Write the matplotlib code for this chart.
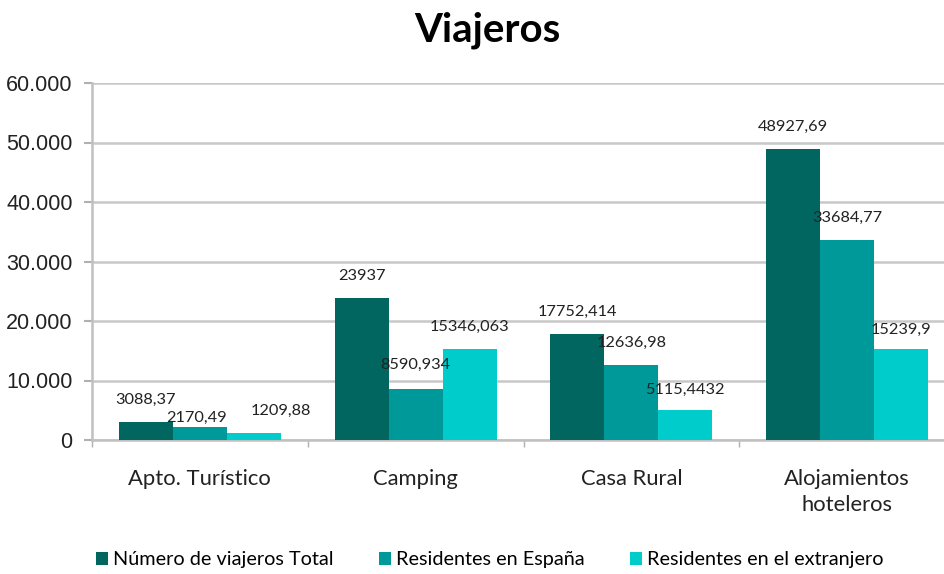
import numpy as np
import matplotlib.pyplot as plt

# datos del grafico
categorias = ["Apto. Turístico", "Camping", "Casa Rural", "Alojamientos\nhoteleros"]
series = ["Número de viajeros Total", "Residentes en España", "Residentes en el extranjero"]
total = [3088.37, 23937, 17752.414, 48927.69]
espana = [2170.49, 8590.934, 12636.98, 33684.77]
extranjero = [1209.88, 15346.063, 5115.4432, 15239.9]
etiquetas = [["3088,37", "23937", "17752,414", "48927,69"],
             ["2170,49", "8590,934", "12636,98", "33684,77"],
             ["1209,88", "15346,063", "5115,4432", "15239,9"]]
yticks = [0, 10000, 20000, 30000, 40000, 50000, 60000]
ytick_labels = ["0", "10.000", "20.000", "30.000", "40.000", "50.000", "60.000"]

colores = ["#00665f", "#009999", "#00cccc"]
# desplazamientos de las etiquetas (pixeles), como los deja Excel
offs = [[(0, 22), (0, 22), (0, 22), (0, 22)],
        [(-3, 9), (0, 24), (0, 22), (0, 22)],
        [(27, 22), (0, 22), (0, 20), (0, 19)]]

fig = plt.figure(figsize=(9.45, 5.74), dpi=100)
ax = fig.add_axes([92/945, (574-440)/574, (955-92)/945, (440-83)/574])

x = np.arange(len(categorias))
w = 0.25
valores = [total, espana, extranjero]
for i, vals in enumerate(valores):
    pos = x + (i - 1) * w
    ax.bar(pos, vals, width=w, color=colores[i], label=series[i], zorder=3)
    for j, v in enumerate(vals):
        ax.annotate(etiquetas[i][j], (pos[j], v), xytext=offs[i][j],
                    textcoords="offset pixels", ha="center", va="center",
                    fontsize=11.8, family="Lato", color="#222222", zorder=4)

ax.set_xlim(-0.5, 3.5)
ax.set_ylim(0, 60000)
ax.set_yticks(yticks)
ax.set_yticklabels(ytick_labels, family="Liberation Sans", fontsize=15.5, color="#222222")
ax.set_xticks(x)
ax.set_xticklabels(categorias, family="Lato", fontsize=15.8, color="#222222", linespacing=1.35)
ax.set_xticks(np.arange(len(categorias) + 1) - 0.5, minor=True)
ax.tick_params(axis="x", which="major", length=0, pad=21)
ax.tick_params(axis="x", which="minor", length=5, color="#b0b0b0", width=1)
ax.tick_params(axis="y", length=6, color="#b0b0b0", width=1.5, pad=8)

ax.grid(axis="y", color="#c8c8c8", linewidth=1.8, zorder=0)
for s in ["top", "right"]:
    ax.spines[s].set_visible(False)
ax.spines["left"].set_color("#c0c0c0")
ax.spines["left"].set_linewidth(1.8)
ax.spines["bottom"].set_color("#c0c0c0")
ax.spines["bottom"].set_linewidth(1.8)

fig.text(487/945, 1 - 30/574, "Viajeros", ha="center", va="center",
         family="Lato", fontweight="bold", fontsize=29, color="black")

fig.legend(loc="center", bbox_to_anchor=(490/945, 1 - 560/574), ncol=3,
           frameon=False, prop={"family": "Lato", "size": 14.3},
           handlelength=0.6, handleheight=0.6, handletextpad=0.25, columnspacing=2.3)

fig.savefig("out.png", dpi=100)
